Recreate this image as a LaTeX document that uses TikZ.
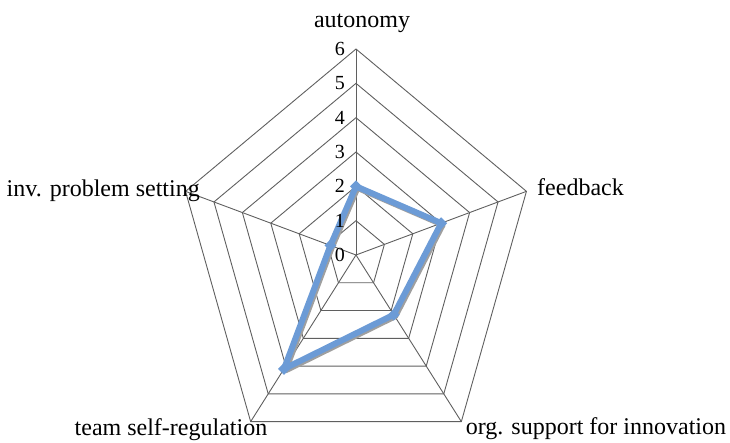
\documentclass[tikz,border=0pt]{standalone}
\usepackage{fontspec}
\setmainfont{Liberation Serif}
\usetikzlibrary{shapes.geometric}
\definecolor{serieblue}{RGB}{108,155,214}
\definecolor{gridgray}{RGB}{95,95,95}
\tikzset{
  gridline/.style={gridgray, line width=0.9pt},
  axislabel/.style={inner sep=0pt, font=\fontsize{24}{28}\selectfont},
  ticklabel/.style={inner sep=0pt, anchor=east, font=\fontsize{20}{23}\selectfont},
  datamark/.style={diamond, fill=serieblue, inner sep=0pt, minimum size=12pt},
  dataline/.style={serieblue, line width=6pt, line join=round},
  shadowline/.style={gray!75, line width=6pt, line join=round}
}

\begin{document}
\begin{tikzpicture}[x=29.87pt, y=34.33pt]
\useasboundingbox (-356pt,-187pt) rectangle (374pt,255pt);
% rings and spokes
\foreach \r in {1,...,6}
  \draw[gridline] (90:\r) -- (18:\r) -- (-54:\r) -- (-126:\r) -- (162:\r) -- cycle;
\coordinate (o) at (0,0);
\foreach \a/\n in {90/1,18/2,-54/3,-126/4,162/5}
  \coordinate (v\n) at (\a:6);
\foreach \n in {1,...,5}
  \draw[gridline] (o) -- (v\n);

% axis names
\node[axislabel] (autonomy) at (6pt,232pt) {autonomy};
\node[axislabel, anchor=west] (feedback) at (181pt,68pt) {feedback};
\node[axislabel, anchor=east] (problem) at (-156pt,64pt) {inv. problem setting};
\node[axislabel] (selfreg) at (-185pt,-175pt) {team self-regulation};
\node[axislabel] (support) at (240pt,-174pt) {org. support for innovation};

% series
\foreach \a/\v/\n in {90/2/1,18/3/2,-54/2.15/3,-126/4.1/4,162/0.9/5}
  \coordinate (p\n) at (\a:\v);
\draw[shadowline, transform canvas={xshift=1.5pt,yshift=-1.5pt}] (p1) -- (p2) -- (p3) -- (p4) -- (p5) -- cycle;
\draw[dataline] (p1) -- (p2) -- (p3) -- (p4) -- (p5) -- cycle;
\foreach \n in {1,...,5}
  \node[datamark] (m\n) at (p\n) {};

% scale
\foreach \r in {0,...,6}
  \node[ticklabel, xshift=-11pt] (t\r) at (0,\r) {\r};
\end{tikzpicture}
\end{document}
